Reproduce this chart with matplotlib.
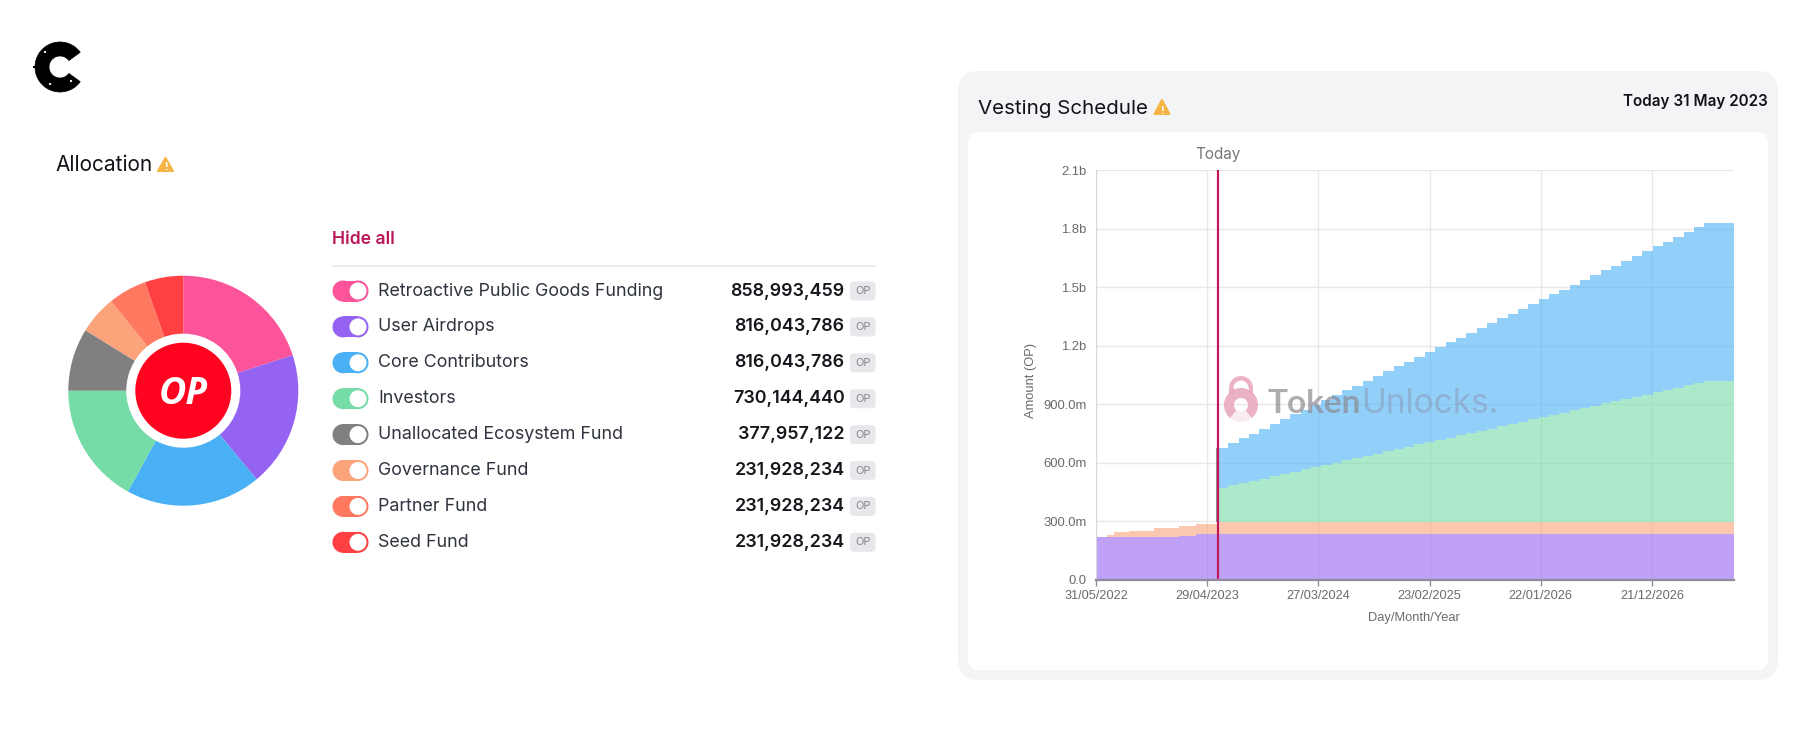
import matplotlib
matplotlib.use("Agg")
import matplotlib.pyplot as plt
from matplotlib.patches import Circle, FancyBboxPatch, Polygon, Wedge, Rectangle

# --- allocation ---
alloc_names = ["Retroactive Public Goods Funding", "User Airdrops", "Core Contributors", "Investors",
               "Unallocated Ecosystem Fund", "Governance Fund", "Partner Fund", "Seed Fund"]
alloc_values = [858993459, 816043786, 816043786, 730144440, 377957122, 231928234, 231928234, 231928234]
alloc_colors = ["#FC549A", "#9563F2", "#4AB0F5", "#75DBA7", "#808080", "#FBA37A", "#FF7860", "#FF4043"]

# --- vesting, millions OP ---
pre_days = [0, 33, 54, 99, 174, 249, 300, 365]
pre_purple = [218, 218, 218, 218, 218, 226, 235, 235]
pre_orange = [218, 229, 246, 253, 265, 277, 289, 296]

post_days = [365, 396, 427, 458, 489, 520, 551, 582, 613, 644, 675, 706, 737, 768, 799, 830,
             861, 892, 923, 954, 985, 1016, 1047, 1078, 1109, 1140, 1171, 1202, 1233, 1264, 1295, 1326,
             1357, 1388, 1419, 1450, 1481, 1512, 1543, 1574, 1605, 1636, 1667, 1698, 1729, 1760, 1791, 1822]
post_green = [473, 485, 497, 508, 520, 532, 543, 555, 567, 578, 590, 602, 613, 625, 637, 648,
              660, 672, 683, 695, 706, 718, 730, 741, 753, 765, 776, 788, 800, 811, 823, 835,
              846, 858, 870, 881, 893, 905, 916, 928, 940, 951, 963, 975, 986, 998, 1010, 1021]
post_blue = [677, 701, 726, 750, 775, 800, 824, 849, 873, 898, 923, 947, 972, 996, 1021, 1046,
             1070, 1095, 1119, 1144, 1169, 1193, 1218, 1242, 1267, 1292, 1316, 1341, 1365, 1390, 1415, 1439,
             1464, 1488, 1513, 1538, 1562, 1587, 1611, 1636, 1661, 1685, 1710, 1734, 1759, 1784, 1808, 1832]
post_purple = 234
post_pink = 238
post_orange = 296
end_day = 1911
today_day = 365

x_ticks = [0, 333, 666, 999, 1332, 1665]
x_labels = ["31/05/2022", "29/04/2023", "27/03/2024", "23/02/2025", "22/01/2026", "21/12/2026"]
y_ticks = [0, 300, 600, 900, 1200, 1500, 1800, 2100]
y_labels = ["0.0", "300.0m", "600.0m", "900.0m", "1.2b", "1.5b", "1.8b", "2.1b"]

W, H = 1800, 742
plt.rcParams["font.family"] = ["Inter", "DejaVu Sans"]
fig = plt.figure(figsize=(W / 100, H / 100), dpi=100, facecolor="white")


def px_axes(left, top, right, bottom, **kw):
    return fig.add_axes([left / W, 1 - bottom / H, (right - left) / W, (bottom - top) / H], **kw)


def warn(ax, x0, x1, y0, y1):
    ax.add_patch(Polygon([[x0 + 1, y1 - 1], [x1 - 1, y1 - 1], [(x0 + x1) / 2, y0 + 1]], closed=True,
                         fc="#F4B544", ec="#F4B544", lw=1.5, joinstyle="round"))
    ax.text((x0 + x1) / 2, y1 - 4.5, "!", color="white", fontsize=7.5, fontweight="bold", ha="center", va="center")


# background layer
bg = fig.add_axes([0, 0, 1, 1], zorder=0)
bg.set_xlim(0, W)
bg.set_ylim(H, 0)
bg.axis("off")

# logo
bg.add_patch(Wedge((60, 67), 25, 36, 324, width=14, fc="black", ec="black", lw=0.5))
bg.add_patch(Rectangle((33, 66), 3, 1.5, fc="black", ec="none"))
for dot_x, dot_y in [(45, 52), (50, 84), (71, 81)]:
    bg.add_patch(Circle((dot_x, dot_y), 1.1, fc="white", ec="none"))

bg.text(55, 171, "Allocation", fontsize=15, color="#111318", va="baseline")
warn(bg, 157, 174, 157, 172)

bg.text(332, 244.5, "Hide all", fontsize=12.7, fontweight=600, color="#B9195A", va="baseline")
bg.plot([333, 875], [265.5, 265.5], color="#E5E7EB", lw=1.2)

# legend rows
row_y0 = 291
row_step = 35.9
for i, name in enumerate(alloc_names):
    y = row_y0 + i * row_step
    col = alloc_colors[i]
    bg.add_patch(Rectangle((343, y - 10.5), 15, 21, fc=col, ec="none"))
    bg.add_patch(Circle((343, y), 10.5, fc=col, ec="none"))
    bg.add_patch(Circle((358, y), 10.5, fc=col, ec="none"))
    bg.add_patch(Circle((358, y), 8.5, fc="white", ec="none"))
    bg.text(378.5, y, name, fontsize=12.85, color="#30343F", va="center")
    bg.text(844.5, y, f"{alloc_values[i]:,}", fontsize=12.9, fontweight=600, color="#15171C", va="center", ha="right")
    bg.add_patch(FancyBboxPatch((850, y - 9.5), 25.5, 19, boxstyle="round,pad=0,rounding_size=4",
                                fc="#E7E8EB", ec="none"))
    bg.text(862.7, y, "OP", fontsize=8, color="#85878C", va="center", ha="center")

# vesting card
bg.add_patch(FancyBboxPatch((958, 71), 820, 609, boxstyle="round,pad=0,rounding_size=20", fc="#F3F4F6", ec="none"))
bg.add_patch(FancyBboxPatch((968, 132), 800, 538, boxstyle="round,pad=0,rounding_size=12", fc="white", ec="none"))
bg.text(978.5, 114, "Vesting Schedule", fontsize=14.8, color="#111318", va="baseline")
warn(bg, 1153.5, 1170.5, 99, 115)
bg.text(1768, 101.5, "Today 31 May 2023", fontsize=10.95, fontweight=600, color="#111318", va="center", ha="right")

# donut
pie_ax = px_axes(183.3 - 115, 390.7 - 115, 183.3 + 115, 390.7 + 115, zorder=1)
pie_ax.pie(alloc_values, colors=alloc_colors, startangle=90, counterclock=False, radius=1,
           wedgeprops={"width": 0.504, "linewidth": 0})
pie_ax.set_xlim(-1, 1)
pie_ax.set_ylim(-1, 1)
pie_ax.add_patch(Circle((0, 0), 48 / 115, fc="#FF0420", ec="none"))
pie_ax.text(0, -0.03, "OP", fontsize=27, fontweight="bold", style="italic", family=["Open Sans", "DejaVu Sans"],
            color="white", ha="center", va="center")

# area chart
ax = px_axes(1096, 170.4, 1734, 580, zorder=1)
ax.set_xlim(0, end_day)
ax.set_ylim(0, 2100)
ax.set_axisbelow(True)
ax.grid(True, color="#E8E8EA", lw=1.0)
ax.patch.set_alpha(0)
for side in ["top", "right"]:
    ax.spines[side].set_visible(False)
ax.spines["left"].set_color("#D8D8DA")
ax.spines["bottom"].set_color("#8F8A9C")
ax.spines["bottom"].set_linewidth(1.6)

days = post_days + [end_day]
blue = post_blue + [post_blue[-1]]
green = post_green + [post_green[-1]]
alpha = 0.6
ax.fill_between(pre_days, pre_purple, pre_orange, step="post", color="#FBA37A", alpha=alpha, lw=0)
ax.fill_between(pre_days, 0, pre_purple, step="post", color="#9563F2", alpha=alpha, lw=0)
ax.fill_between([today_day, end_day], post_purple, post_pink, color="#FC7C9A", alpha=alpha, lw=0)
ax.fill_between([today_day, end_day], post_pink, post_orange, color="#FBA37A", alpha=alpha, lw=0)
ax.fill_between([today_day, end_day], 0, post_purple, color="#9563F2", alpha=alpha, lw=0)
ax.fill_between(days, post_orange, green, step="post", color="#75DBA7", alpha=alpha, lw=0)
ax.fill_between(days, green, blue, step="post", color="#4AB0F5", alpha=alpha, lw=0)

ax.vlines(today_day - 2, post_orange, post_blue[0], color="#7F7F85", lw=1.2)
ax.axvline(today_day, color="#C2185B", lw=1.6)

ax.set_xticks(x_ticks)
ax.set_xticklabels(x_labels)
ax.set_yticks(y_ticks)
ax.set_yticklabels(y_labels)
tick_font = ["Liberation Sans", "DejaVu Sans"]
ax.tick_params(axis="x", length=4, width=1, color="#8F8A9C", labelsize=9.2, labelcolor="#6A6A6E", pad=3)
ax.tick_params(axis="y", length=0, labelsize=9.4, labelcolor="#6A6A6E", pad=7)
for lab in ax.get_xticklabels() + ax.get_yticklabels():
    lab.set_family(tick_font)

# foreground layer: labels and watermark
fg = fig.add_axes([0, 0, 1, 1], zorder=2)
fg.set_xlim(0, W)
fg.set_ylim(H, 0)
fg.axis("off")
fg.patch.set_alpha(0)
fg.text(1218, 155, "Today", fontsize=11, color="#77777B", ha="center", va="center")
fg.text(1031, 380, "Amount (OP)", fontsize=9.3, color="#6A6A6E", rotation=90, ha="center", va="center", family=tick_font)
fg.text(1414, 618, "Day/Month/Year", fontsize=9.3, color="#6A6A6E", ha="center", va="center", family=tick_font)

# lock icon, y runs downwards here so the shackle is the 180-360 half
lock_col = "#E9A9C0"
fg.add_patch(Wedge((1241, 388), 12, 180, 360, width=4.5, fc=lock_col, ec="none", alpha=0.9))
fg.add_patch(Rectangle((1229, 388), 4.5, 7, fc=lock_col, ec="none", alpha=0.9))
fg.add_patch(Rectangle((1248.5, 388), 4.5, 6, fc=lock_col, ec="none", alpha=0.9))
fg.add_patch(Wedge((1241, 405), 17, 0, 360, width=10, fc=lock_col, ec="none", alpha=0.9))
fg.add_patch(Wedge((1241, 405), 19, 50, 130, width=12, fc="white", ec="none", alpha=0.75))

fg.text(1268, 413, "Token", fontsize=24, fontweight="bold", color="#8A8A90", alpha=0.7, va="baseline", family=["Lato", "DejaVu Sans"])
fg.text(1361, 413, "Unlocks.", fontsize=24, color="#8A8FA8", alpha=0.45, va="baseline")

fig.savefig("out.png", dpi=100)
plt.close(fig)
